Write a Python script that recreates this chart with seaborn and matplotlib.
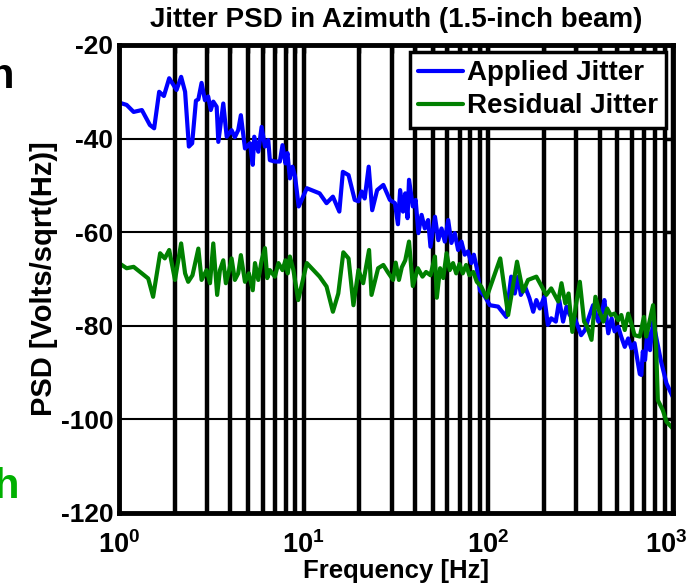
import numpy as np
import pandas as pd
import matplotlib
matplotlib.use('Agg')
import matplotlib.pyplot as plt
import matplotlib.transforms as mtransforms
from matplotlib.ticker import FixedLocator, FixedFormatter, NullFormatter
import seaborn as sns

# Applied jitter (blue): frequency [Hz], PSD [dB]
applied_freq = [1.00, 1.10, 1.20, 1.33, 1.47, 1.55, 1.65, 1.75, 1.87, 2.05, 2.17, 2.28,
                2.39, 2.49, 2.61, 2.69, 2.80, 2.92, 3.04, 3.14, 3.24, 3.38, 3.45, 3.67,
                3.83, 4.07, 4.24, 4.42, 4.57, 4.81, 5.12, 5.30, 5.40, 5.68, 5.92, 6.17,
                6.43, 6.56, 6.98, 7.43, 7.68, 7.97, 8.17, 8.42, 8.70, 8.98, 9.4, 10.4,
                12.2, 13.3, 14.4, 15.6, 16.3, 17.5, 18.9, 19.8, 20.6, 21.4, 22.5, 23.5,
                25.0, 27.0, 29.3, 31.2, 32.4, 33.3, 34.5, 35.5, 36.5, 37.2, 39.0, 40.4,
                41.8, 43.5, 45.3, 47.2, 48.6, 51.4, 53.6, 55.8, 58.1, 60.6, 63.1, 65.8,
                68.6, 71.5, 74.5, 77.6, 80.9, 83.5, 86.6, 90.2, 96.0, 102, 113, 125,
                133, 139, 145, 150, 158, 167, 175, 182, 190, 201, 210, 219,
                232, 242, 254, 265, 276, 294, 306, 318, 334, 346, 369, 394,
                412, 425, 446, 465, 483, 505, 524, 548, 572, 595, 619, 646,
                661, 674, 686, 706, 727, 751, 780, 810, 860, 922, 995]
applied_psd = [-32.3, -32.8, -34.3, -33.9, -37.1, -37.8, -30.0, -30.9, -27.1, -29.6, -26.8, -30.0,
               -41.7, -41.0, -31.9, -31.6, -28.1, -31.8, -31.0, -33.9, -32.1, -33.2, -40.7, -32.5,
               -39.6, -38.2, -39.7, -38.2, -35.0, -42.1, -41.0, -45.6, -39.6, -42.8, -37.5, -41.7,
               -40.3, -44.6, -44.9, -44.9, -41.4, -45.3, -43.1, -48.5, -46.0, -48.1, -54.5, -50.6,
               -51.7, -53.8, -52.4, -55.6, -47.1, -47.8, -53.1, -53.4, -51.3, -52.8, -46.0, -55.3,
               -51.0, -49.9, -53.1, -53.8, -58.3, -51.0, -55.6, -51.7, -57.0, -48.8, -54.5, -53.1,
               -60.2, -56.3, -59.2, -57.4, -63.1, -56.7, -61.7, -59.2, -62.0, -57.4, -62.3, -60.2,
               -63.8, -62.0, -64.8, -64.1, -66.6, -64.8, -67.7, -72.5, -73.8, -75.6, -75.9, -78.1,
               -69.5, -73.1, -69.5, -73.4, -71.6, -74.1, -77.0, -74.5, -76.3, -73.8, -79.8, -78.4,
               -79.1, -74.5, -79.1, -75.9, -77.7, -78.4, -80.2, -82.0, -80.9, -78.8, -75.6, -79.1,
               -77.4, -74.5, -81.6, -78.4, -81.2, -80.2, -82.3, -84.5, -82.7, -84.8, -83.7, -88.0,
               -90.3, -90.5, -85.5, -87.3, -80.9, -85.2, -79.1, -82.3, -87.5, -92.3, -95.1]

# Residual jitter (green)
residual_freq = [1.00, 1.10, 1.20, 1.33, 1.44, 1.53, 1.67, 1.77, 1.87, 2.01, 2.17, 2.28,
                 2.37, 2.50, 2.69, 2.80, 2.98, 3.11, 3.24, 3.40, 3.52, 3.67, 3.79, 3.95,
                 4.07, 4.24, 4.42, 4.57, 4.81, 5.05, 5.30, 5.45, 5.68, 5.92, 6.17, 6.35,
                 6.56, 6.98, 7.30, 7.68, 7.97, 8.20, 8.42, 8.80, 9.34, 10.4, 12.2, 13.3,
                 14.4, 15.4, 16.4, 17.5, 18.6, 19.8, 21.0, 22.6, 23.3, 25.3, 27.0, 28.5,
                 30.5, 31.5, 32.8, 34.0, 35.5, 37.2, 39.0, 41.5, 44.0, 46.0, 48.6, 51.4,
                 52.6, 54.8, 57.0, 59.4, 61.8, 64.4, 67.0, 69.8, 72.7, 75.8, 79.0, 83.0,
                 86.6, 91.5, 97.7, 116, 128, 143, 154, 164, 182, 206, 219, 239,
                 249, 261, 272, 285, 298, 313, 330, 343, 362, 380, 398, 420,
                 440, 460, 482, 505, 525, 548, 572, 595, 619, 661, 696, 716,
                 780, 810, 828, 880, 922, 995]
residual_psd = [-66.6, -67.7, -67.4, -68.8, -69.9, -73.8, -64.5, -65.6, -63.8, -70.2, -62.4, -68.8,
                -70.6, -69.2, -63.5, -70.2, -68.1, -70.9, -62.4, -73.4, -68.1, -66.0, -70.9, -68.1,
                -65.6, -70.2, -68.8, -64.9, -70.6, -68.8, -72.4, -66.6, -70.2, -66.0, -63.4, -69.8,
                -68.1, -69.5, -66.6, -68.1, -66.0, -68.8, -65.2, -68.1, -74.5, -66.6, -69.5, -71.6,
                -77.0, -73.1, -64.3, -65.6, -75.6, -68.1, -70.9, -63.8, -73.4, -67.7, -67.0, -68.5,
                -70.2, -66.5, -70.2, -67.5, -66.0, -62.0, -71.5, -67.7, -69.5, -68.5, -69.2, -65.2,
                -74.0, -67.7, -69.8, -64.5, -68.1, -66.6, -68.8, -66.8, -68.8, -67.0, -69.2, -68.5,
                -70.6, -71.6, -74.0, -65.6, -77.7, -66.3, -72.7, -70.2, -69.5, -73.4, -72.0, -74.8,
                -70.9, -75.2, -73.1, -81.3, -75.6, -70.6, -79.1, -80.2, -83.0, -73.8, -76.8, -79.1,
                -76.3, -77.7, -77.4, -78.8, -77.7, -80.9, -77.4, -79.5, -82.0, -82.3, -78.1, -82.3,
                -75.6, -84.5, -95.9, -98.0, -100.5, -101.9]

series_names = ['Applied Jitter', 'Residual Jitter']
series_colors = ['#0000ff', '#008000']
y_ticks = [-120, -100, -80, -60, -40, -20]
x_decades = [1, 10, 100, 1000]
x_decade_labels = [r'$\mathbf{10^{0}}$', r'$\mathbf{10^{1}}$', r'$\mathbf{10^{2}}$', r'$\mathbf{10^{3}}$']

df = pd.concat([
    pd.DataFrame({'freq': applied_freq, 'psd': applied_psd, 'series': series_names[0]}),
    pd.DataFrame({'freq': residual_freq, 'psd': residual_psd, 'series': series_names[1]}),
])

sns.set_style('white')
plt.rcParams['font.family'] = ['Liberation Sans', 'DejaVu Sans']
plt.rcParams['font.weight'] = 'bold'
plt.rcParams['text.color'] = 'black'
plt.rcParams['axes.labelcolor'] = 'black'
plt.rcParams['xtick.color'] = 'black'
plt.rcParams['ytick.color'] = 'black'
plt.rcParams['mathtext.fontset'] = 'custom'
plt.rcParams['mathtext.bf'] = 'Liberation Sans:bold'
plt.rcParams['mathtext.rm'] = 'Liberation Sans:bold'

fig = plt.figure(figsize=(6.87, 5.87), dpi=100)
ax = fig.add_axes([119 / 687, 1 - 513 / 587, (673 - 119) / 687, (513 - 45) / 587])

sns.lineplot(data=df, x='freq', y='psd', hue='series', palette=dict(zip(series_names, series_colors)),
             linewidth=3.0, ax=ax, legend=False, sort=False)

ax.set_xscale('log')
ax.set_xlim(1, 1000)
ax.set_ylim(-120, -20)

minor = [m * d for d in [1, 10, 100] for m in range(2, 10)]
ax.xaxis.set_major_locator(FixedLocator(x_decades))
ax.xaxis.set_major_formatter(FixedFormatter(x_decade_labels))
ax.xaxis.set_minor_locator(FixedLocator(minor))
ax.xaxis.set_minor_formatter(NullFormatter())
ax.set_yticks(y_ticks)
ax.set_yticklabels([str(t) for t in y_ticks])

ax.set_axisbelow(True)
ax.grid(True, which='both', axis='x', color='black', linewidth=3.2)
ax.grid(True, which='major', axis='y', color='black', linewidth=1.5)

ax.tick_params(axis='both', which='both', direction='in', top=True, right=True,
               width=2.5, length=6)
ax.tick_params(axis='y', labelsize=19, pad=4)
ax.tick_params(axis='x', labelsize=19.5, pad=13)
for lbl in ax.get_yticklabels():
    lbl.set_fontweight('bold')
# keep the last decade label inside the figure, as in the original
last = ax.get_xticklabels()[-1]
last.set_transform(last.get_transform() + mtransforms.ScaledTranslation(-7 / 100, 0, fig.dpi_scale_trans))
for side in ax.spines.values():
    side.set_linewidth(3.5)
    side.set_color('black')

ax.set_title('Jitter PSD in Azimuth (1.5-inch beam)', fontsize=20, fontweight='bold', pad=13)
ax.set_xlabel('Frequency [Hz]', fontsize=18.5, fontweight='bold', labelpad=0)
ax.set_ylabel('PSD [Volts/sqrt(Hz)]', fontsize=21, fontweight='bold', labelpad=2)

handles = [plt.Line2D([], [], color=c, linewidth=3.0) for c in series_colors]
leg = ax.legend(handles, series_names, loc='upper right', fontsize=20, frameon=True,
                fancybox=False, handlelength=1.6, handletextpad=0.15, borderpad=0.3,
                labelspacing=0.25, borderaxespad=0.25)
leg.get_frame().set_edgecolor('black')
leg.get_frame().set_linewidth(2.5)
leg.get_frame().set_alpha(1)
for t in leg.get_texts():
    t.set_fontweight('bold')

# clipped text fragments from neighbouring panels
fig.text(14 / 687, 1 - 88 / 587, 'h', ha='right', va='baseline', fontsize=30, fontweight='bold', color='black')
fig.text(19 / 687, 1 - 498 / 587, 'h', ha='right', va='baseline', fontsize=30, fontweight='bold', color='#00b000')

fig.savefig('out.png', dpi=100)
